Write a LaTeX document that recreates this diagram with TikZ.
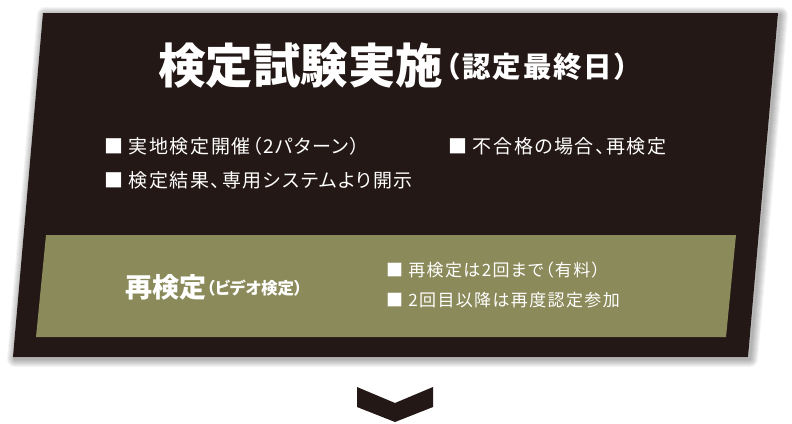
\documentclass[tikz,border=0pt]{standalone}
\usepackage{fontspec}
\newfontfamily\jp{Noto Sans CJK JP}[RawFeature=+palt]
\newfontfamily\jpfull{Noto Sans CJK JP}
\definecolor{darkbrown}{HTML}{231815}
\definecolor{olive}{HTML}{8B8A5A}
\begin{document}
\begin{tikzpicture}[x=1pt,y=-1pt,
  txt/.style={inner sep=0pt, text=white, font=\jp, anchor=west},
  bigtitle/.style={txt, font=\jp\bfseries\fontsize{47.5}{47.5}\selectfont},
  subtitle/.style={txt, font=\jpfull\bfseries\fontsize{28.5}{28.5}\selectfont\addfontfeature{LetterSpace=6}},
  item/.style={txt, font=\jp\fontsize{19}{19}\selectfont\addfontfeature{LetterSpace=8}},
  smallitem/.style={txt, font=\jp\fontsize{17}{17}\selectfont\addfontfeature{LetterSpace=8}},
  shadowline/.style={black, opacity=0.045, line join=round}]
\useasboundingbox (0,0) rectangle (792,423);
% soft shadow
\foreach \i in {1,...,8}{
  \draw[shadowline, line width={2*\i pt}] (45,15) -- (780,15) -- (750,359) -- (15,359) -- cycle;
}
% main dark panel
\fill[darkbrown] (43,13) -- (778,13) -- (748,357) -- (13,357) -- cycle;
% olive band
\fill[olive] (46,235) -- (736,235) -- (726,337) -- (36,337) -- cycle;
% chevron
\fill[darkbrown] (357,387) -- (395,403) -- (433,387) -- (433,407) -- (395,422) -- (357,407) -- cycle;
% title
\node[bigtitle] (title) at (158,66) {検定試験実施};
\node[subtitle] (titlesub) at ([xshift=-11pt]title.east |- 0,67) {（認定最終日）};
% bullets
\node[item] (b1) at (104,146) {■ 実地検定開催（2パターン）};
\node[item] (b2) at (104,180) {■ 検定結果、専用システムより開示};
\node[item] (b3) at (448,146) {■ 不合格の場合、再検定};
% olive band text
\node[txt, font=\jp\bfseries\fontsize{27}{27}\selectfont] (re) at (125,287) {再検定};
\node[txt, font=\jp\bfseries\fontsize{16.5}{16.5}\selectfont] (resub) at (re.east |- 0,288) {（ビデオ検定）};
\node[smallitem] (b4) at (386,270) {■ 再検定は2回まで（有料）};
\node[smallitem] (b5) at (386,300) {■ 2回目以降は再度認定参加};
\end{tikzpicture}
\end{document}
